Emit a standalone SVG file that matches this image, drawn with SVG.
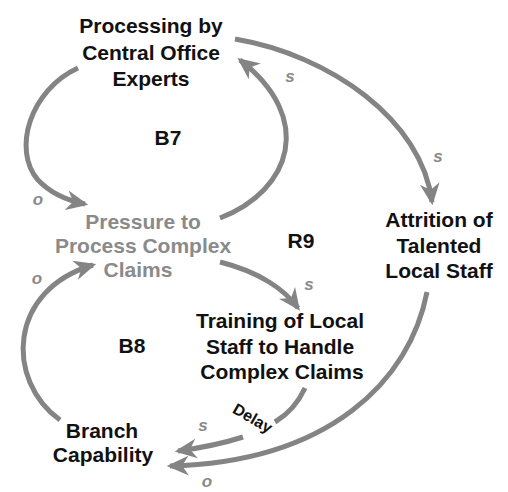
<svg xmlns="http://www.w3.org/2000/svg" width="508" height="492" viewBox="0 0 508 492">
<style>
.n{font-family:"Liberation Sans",Arial,sans-serif;font-weight:bold;font-size:21px;fill:#111;text-anchor:middle}
.g{fill:#8a8a8a}
.lbl{font-family:"Liberation Sans",Arial,sans-serif;font-weight:bold;font-style:italic;font-size:17px;fill:#8a8a8a;text-anchor:middle}
.c{fill:none;stroke:#848484;stroke-width:5;stroke-linecap:butt}
</style>
<defs>
<marker id="ah" viewBox="0 0 20 20" refX="17" refY="10" markerWidth="22" markerHeight="22" markerUnits="userSpaceOnUse" orient="auto">
<path d="M0,1 L20,10 L0,19 L6,10 z" fill="#848484"/>
</marker>
</defs>
<rect width="508" height="492" fill="#fff"/>
<g id="connectors">
<path class="c" marker-end="url(#ah)" d="M78,68 C30,90 12,150 38,180 Q55,198 85,204"/>
<path class="c" marker-end="url(#ah)" d="M220,218 C292,190 315,118 240,60"/>
<path class="c" marker-end="url(#ah)" d="M235,39 C330,55 422,120 432,202"/>
<path class="c" marker-end="url(#ah)" d="M220,262 C260,272 285,290 298,308"/>
<path class="c" marker-end="url(#ah)" d="M60,420 C5,380 8,290 93,265"/>
<path class="c" d="M305,388 Q295,410 275,422"/>
<path class="c" marker-end="url(#ah)" d="M243,437 Q215,446 178,451"/>
<path class="c" marker-end="url(#ah)" d="M427,292 C410,380 330,462 170,466"/>
<text class="lbl" x="38" y="205">o</text>
<text class="lbl" x="290" y="82">s</text>
<text class="lbl" x="438" y="162">s</text>
<text class="lbl" x="309" y="290">s</text>
<text class="lbl" x="37" y="284">o</text>
<text class="lbl" x="203" y="431">s</text>
<text class="lbl" x="207" y="487">o</text>
<text class="n" style="font-size:16px" transform="translate(250,423) rotate(30)">Delay</text>
</g>
<g id="processing"><text class="n" x="151" y="33">Processing by</text><text class="n" x="151" y="60">Central Office</text><text class="n" x="151" y="86">Experts</text></g>
<g id="b7"><text class="n" x="168" y="145">B7</text></g>
<g id="pressure"><text class="n g" x="143" y="229">Pressure to</text><text class="n g" x="143" y="253">Process Complex</text><text class="n g" x="138" y="277">Claims</text></g>
<g id="r9"><text class="n" x="301" y="248">R9</text></g>
<g id="attrition"><text class="n" x="439" y="227">Attrition of</text><text class="n" x="439" y="253">Talented</text><text class="n" x="439" y="278">Local Staff</text></g>
<g id="b8"><text class="n" x="132" y="353">B8</text></g>
<g id="training"><text class="n" x="280" y="328">Training of Local</text><text class="n" x="280" y="354">Staff to Handle</text><text class="n" x="282" y="379">Complex Claims</text></g>
<g id="branch"><text class="n" x="102" y="438">Branch</text><text class="n" x="103" y="462">Capability</text></g>
</svg>
